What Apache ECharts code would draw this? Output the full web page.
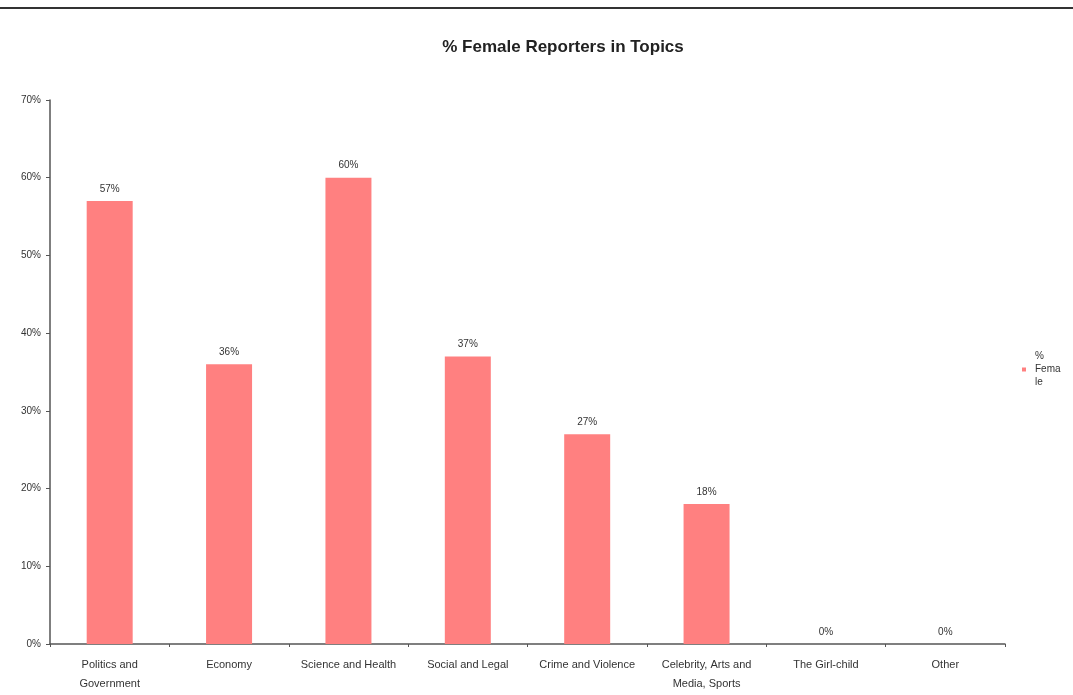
<!DOCTYPE html>
<html>
<head>
<meta charset="utf-8">
<style>
  html, body { margin: 0; padding: 0; background: #fff; }
  #chart { width: 1073px; height: 695px; }
</style>
<script src="https://cdn.jsdelivr.net/npm/echarts@6/dist/echarts.min.js"></script>
</head>
<body>
<div id="chart"></div>
<script>
// Topic categories (tick labels on the category axis)
const topics = [
  'Politics and\nGovernment',
  'Economy',
  'Science and Health',
  'Social and Legal',
  'Crime and Violence',
  'Celebrity, Arts and\nMedia, Sports',
  'The Girl-child',
  'Other'
];
// Share of female reporters per topic, in percent
const femaleShare = [57, 36, 60, 37, 27, 18, 0, 0];
const seriesName = '% Female';

const chart = echarts.init(document.getElementById('chart'));
const textFont = 'Liberation Sans, Arial, sans-serif';
const axisColor = '#555';

chart.setOption({
  backgroundColor: '#fff',
  animation: false,
  title: {
    text: '% Female Reporters in Topics',
    left: 558,
    top: 34,
    textAlign: 'center',
    textStyle: { fontFamily: textFont, fontSize: 17, fontWeight: 'bold', color: '#222' }
  },
  legend: {
    left: 1017,
    top: 332,
    orient: 'vertical',
    itemWidth: 4,
    itemHeight: 4,
    itemGap: 4,
    icon: 'rect',
    formatter: () => '%\nFema\nle',
    // top padding pushes the wrapped name down so the swatch sits beside its first line
    textStyle: { fontFamily: textFont, fontSize: 10, color: '#333', lineHeight: 13, padding: [26, 0, 0, 4] },
    data: [seriesName]
  },
  grid: { left: 50, right: 68, top: 100, bottom: 51 },
  xAxis: {
    type: 'category',
    data: topics,
    axisLine: { lineStyle: { color: axisColor, width: 1.5 } },
    axisTick: { show: true, length: 3, lineStyle: { color: axisColor } },
    axisLabel: {
      fontFamily: textFont, fontSize: 11, color: '#333',
      margin: 11, lineHeight: 19, interval: 0
    }
  },
  yAxis: {
    type: 'value',
    min: 0,
    max: 70,
    interval: 10,
    axisLine: { show: true, lineStyle: { color: axisColor, width: 1.5 } },
    axisTick: { show: true, length: 4, lineStyle: { color: axisColor } },
    splitLine: { show: false },
    axisLabel: {
      formatter: '{value}%',
      fontFamily: textFont, fontSize: 10, color: '#333', margin: 9
    }
  },
  series: [{
    name: seriesName,
    type: 'bar',
    data: femaleShare,
    barWidth: 46,
    itemStyle: { color: '#ff8080' },
    label: {
      show: true,
      position: 'top',
      distance: 7,
      formatter: '{c}%',
      fontFamily: textFont, fontSize: 10, color: '#333'
    }
  }],
  graphic: [{
    type: 'line',
    shape: { x1: 0, y1: 8, x2: 1073, y2: 8 },
    style: { stroke: '#333', lineWidth: 2 }
  }]
});
</script>
</body>
</html>
